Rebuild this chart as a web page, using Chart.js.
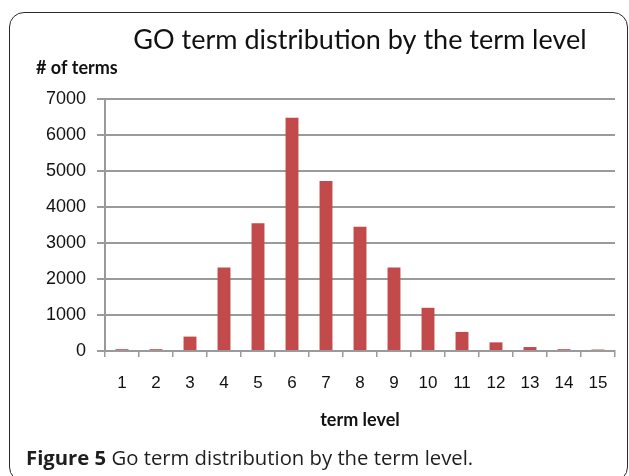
<!DOCTYPE html>
<html>
<head>
<meta charset="utf-8">
<script src="https://cdn.jsdelivr.net/npm/chart.js@4.4.1/dist/chart.umd.min.js"></script>
<style>
  html, body { margin: 0; padding: 0; background: #ffffff; }
  body { width: 629px; height: 476px; position: relative; overflow: hidden; }
  #frame {
    position: absolute; left: 9px; top: 12px; width: 619px; height: 470px;
    border: 1.5px solid #2a2a2a; border-radius: 15px; box-sizing: border-box;
  }
  #wrap { position: absolute; left: 0; top: 0; width: 629px; height: 476px; }
  #caption {
    position: absolute; left: 26px; top: 443px; white-space: nowrap;
    font-family: "Open Sans", sans-serif; font-size: 20.3px; color: #1e1e1e; line-height: 28px;
  }
  #caption b { font-weight: 700; }
</style>
</head>
<body>
<div id="frame"></div>
<div id="wrap"><canvas id="c"></canvas></div>
<div id="caption"><b>Figure 5</b> Go term distribution by the term level.</div>
<script>
const chartTitle = 'GO term distribution by the term level';
const yAxisLabel = '# of terms';
const xAxisLabel = 'term level';
const termLevels = ['1','2','3','4','5','6','7','8','9','10','11','12','13','14','15'];
const termCounts = [50, 50, 400, 2320, 3550, 6480, 4720, 3450, 2320, 1200, 530, 240, 110, 50, 40];
const yTicks = [0, 1000, 2000, 3000, 4000, 5000, 6000, 7000];

const gridGrey = '#9a9a9a';

new Chart(document.getElementById('c'), {
  type: 'bar',
  data: {
    labels: termLevels,
    datasets: [{
      label: yAxisLabel,
      data: termCounts,
      backgroundColor: '#C24A4A',
      borderWidth: 0,
      barPercentage: 0.38,
      categoryPercentage: 1.0
    }]
  },
  options: {
    responsive: true,
    maintainAspectRatio: false,
    animation: false,
    layout: { padding: { left: 36, right: 14, top: 0, bottom: 40 } },
    plugins: {
      legend: { display: false },
      tooltip: { enabled: false },
      title: {
        display: true,
        text: chartTitle,
        fullSize: false,
        color: '#111111',
        font: { family: 'Lato, "Open Sans", sans-serif', size: 27, weight: 'normal', lineHeight: 1.2 },
        padding: { top: 24, bottom: 0 }
      },
      subtitle: {
        display: true,
        text: yAxisLabel,
        align: 'start',
        color: '#111111',
        font: { family: 'Lato, "Open Sans", sans-serif', size: 18, weight: 'bold', lineHeight: 1.2 },
        padding: { top: 1, bottom: 20 }
      }
    },
    scales: {
      x: {
        grid: {
          display: true,
          drawOnChartArea: false,
          drawTicks: true,
          tickLength: 6,
          color: gridGrey,
          lineWidth: 1.5,
          offset: true
        },
        border: { display: true, color: gridGrey, width: 2 },
        ticks: {
          color: '#111111',
          padding: 16,
          font: { family: '"Liberation Sans", Arial, sans-serif', size: 17 },
          maxRotation: 0
        },
        title: {
          display: true,
          text: xAxisLabel,
          color: '#111111',
          font: { family: 'Lato, "Open Sans", sans-serif', size: 18, weight: 'bold', lineHeight: 1.2 },
          padding: { top: 0, bottom: 5 }
        }
      },
      y: {
        min: 0,
        max: 7000,
        afterFit: (scale) => { scale.width = 69; },
        afterBuildTicks: (scale) => { scale.ticks = yTicks.map(v => ({ value: v })); },
        grid: {
          color: gridGrey,
          lineWidth: 2,
          tickLength: 8,
          drawTicks: true
        },
        border: { display: true, color: gridGrey, width: 2 },
        ticks: {
          color: '#111111',
          padding: 11,
          font: { family: '"Liberation Sans", Arial, sans-serif', size: 18 },
          callback: (v) => String(v)
        }
      }
    }
  }
});
</script>
</body>
</html>
